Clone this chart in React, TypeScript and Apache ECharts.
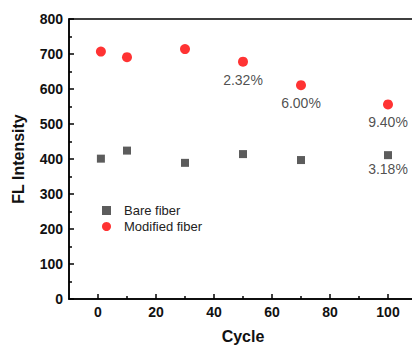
import React, { useEffect, useRef } from 'react';
import * as echarts from 'echarts';

const cycles = [1, 10, 30, 50, 70, 100];
const bareFiber = [401, 424, 389, 414, 397, 411];
const modifiedFiber = [707, 691, 714, 678, 611, 556];
const bareLabels = ['', '', '', '', '', '3.18%'];
const modifiedLabels = ['', '', '', '2.32%', '6.00%', '9.40%'];
const xTicks = [0, 20, 40, 60, 80, 100];
const xMinorTicks = [10, 30, 50, 70, 90];

export default function App() {
  const ref = useRef<HTMLDivElement>(null);
  useEffect(() => {
    const chart = echarts.init(ref.current!, null, { renderer: 'svg' });
    const font = '"Liberation Sans", Arial, sans-serif';
    const axisLine = { color: '#000', width: 1.5 };
    chart.setOption({
      animation: false,
      textStyle: { fontFamily: font },
      grid: {
        left: 69,
        right: -5,
        top: 19,
        bottom: 46,
        outerBoundsMode: 'none',
        containLabel: false,
        show: true,
        borderColor: '#000',
        borderWidth: 1.5,
      },
      legend: {
        orient: 'vertical',
        left: 102,
        top: 204,
        padding: 0,
        itemWidth: 9,
        itemHeight: 9,
        itemGap: 3,
        textStyle: { fontSize: 13, color: '#222', fontFamily: font, padding: [0, 0, 0, 8] },
        data: [
          { name: 'Bare fiber', icon: 'rect' },
          { name: 'Modified fiber', icon: 'circle' },
        ],
      },
      xAxis: [
        {
          type: 'value',
          min: -10,
          max: 110,
          name: 'Cycle',
          nameLocation: 'middle',
          nameGap: 29,
          nameTextStyle: { fontSize: 16, fontWeight: 'bold', color: '#111', fontFamily: font },
          axisLine: { onZero: false, lineStyle: axisLine },
          axisTick: { inside: true, length: 5, customValues: xTicks, lineStyle: axisLine },
          axisLabel: {
            customValues: xTicks,
            fontSize: 14,
            fontWeight: 'bold',
            color: '#111',
            margin: 6,
          },
          splitLine: { show: false },
        },
        {
          type: 'value',
          min: -10,
          max: 110,
          position: 'bottom',
          axisLine: { show: false },
          axisTick: { inside: true, length: 3, customValues: xMinorTicks, lineStyle: axisLine },
          axisLabel: { show: false },
          splitLine: { show: false },
        },
      ],
      yAxis: {
        type: 'value',
        min: 0,
        max: 800,
        interval: 100,
        name: 'FL Intensity',
        nameLocation: 'middle',
        nameGap: 43,
        nameTextStyle: { fontSize: 16, fontWeight: 'bold', color: '#111', fontFamily: font },
        axisLine: { show: true, onZero: false, lineStyle: axisLine },
        axisTick: { show: true, inside: true, length: 5, lineStyle: axisLine },
        minorTick: { show: true, splitNumber: 2, length: 3, lineStyle: { color: '#000', width: 1.5 } },
        axisLabel: { fontSize: 14, fontWeight: 'bold', color: '#111', margin: 6 },
        splitLine: { show: false },
      },
      series: [
        {
          name: 'Bare fiber',
          type: 'scatter',
          symbol: 'rect',
          symbolSize: 8,
          itemStyle: { color: '#333333' },
          data: cycles.map((c, i) => [c, bareFiber[i]]),
          label: {
            show: true,
            position: 'bottom',
            distance: 3,
            fontSize: 14,
            color: '#222',
            formatter: (p: any) => bareLabels[p.dataIndex],
          },
        },
        {
          name: 'Modified fiber',
          type: 'scatter',
          symbol: 'circle',
          symbolSize: 10,
          itemStyle: { color: '#ff0000' },
          data: cycles.map((c, i) => [c, modifiedFiber[i]]),
          label: {
            show: true,
            position: 'bottom',
            distance: 6,
            fontSize: 14,
            color: '#222',
            formatter: (p: any) => modifiedLabels[p.dataIndex],
          },
        },
      ],
    });
    return () => chart.dispose();
  }, []);
  return (
    <div
      ref={ref}
      style={{ position: 'absolute', left: 0, top: 0, width: 412, height: 345 }}
    />
  );
}
